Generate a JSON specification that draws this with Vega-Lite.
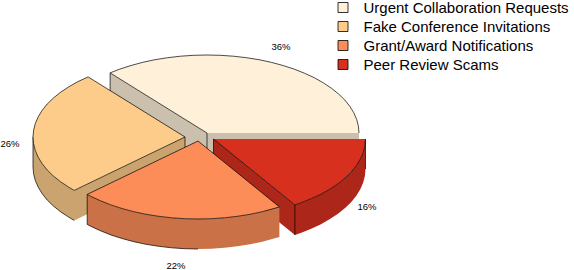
{"$schema":"https://vega.github.io/schema/vega-lite/v6.json","width":574,"height":270,"padding":0,"autosize":"none","background":"white","config":{"view":{"stroke":null}},"layer":[{"data":{"values":[
{"part":"1w","key":"Urgent side","face":"wall","i":0,"x":110.1,"y":72.9},{"part":"1w","key":"Urgent side","face":"wall","i":1,"x":207,"y":133},{"part":"1w","key":"Urgent side","face":"wall","i":2,"x":359,"y":133},{"part":"1w","key":"Urgent side","face":"wall","i":3,"x":359,"y":163},{"part":"1w","key":"Urgent side","face":"wall","i":4,"x":207,"y":163},{"part":"1w","key":"Urgent side","face":"wall","i":5,"x":110.1,"y":102.9},
{"part":"1e1","key":"edge","face":"edge","i":0,"x":110.1,"y":72.9},{"part":"1e1","key":"edge","face":"edge","i":1,"x":110.1,"y":102.9},
{"part":"1e2","key":"edge","face":"edge","i":0,"x":207,"y":133},{"part":"1e2","key":"edge","face":"edge","i":1,"x":207,"y":163},
{"part":"1t","key":"Urgent Collaboration Requests","face":"top","i":0,"x":359,"y":133},{"part":"1t","key":"Urgent Collaboration Requests","face":"top","i":1,"x":358.4,"y":126.2},{"part":"1t","key":"Urgent Collaboration Requests","face":"top","i":2,"x":356.7,"y":119.5},{"part":"1t","key":"Urgent Collaboration Requests","face":"top","i":3,"x":353.8,"y":112.8},{"part":"1t","key":"Urgent Collaboration Requests","face":"top","i":4,"x":349.8,"y":106.3},{"part":"1t","key":"Urgent Collaboration Requests","face":"top","i":5,"x":344.8,"y":100},{"part":"1t","key":"Urgent Collaboration Requests","face":"top","i":6,"x":338.6,"y":94},{"part":"1t","key":"Urgent Collaboration Requests","face":"top","i":7,"x":331.5,"y":88.3},{"part":"1t","key":"Urgent Collaboration Requests","face":"top","i":8,"x":323.4,"y":82.9},{"part":"1t","key":"Urgent Collaboration Requests","face":"top","i":9,"x":314.5,"y":77.8},{"part":"1t","key":"Urgent Collaboration Requests","face":"top","i":10,"x":304.7,"y":73.3},{"part":"1t","key":"Urgent Collaboration Requests","face":"top","i":11,"x":294.2,"y":69.1},{"part":"1t","key":"Urgent Collaboration Requests","face":"top","i":12,"x":283,"y":65.5},{"part":"1t","key":"Urgent Collaboration Requests","face":"top","i":13,"x":271.2,"y":62.3},{"part":"1t","key":"Urgent Collaboration Requests","face":"top","i":14,"x":259,"y":59.7},{"part":"1t","key":"Urgent Collaboration Requests","face":"top","i":15,"x":246.3,"y":57.7},{"part":"1t","key":"Urgent Collaboration Requests","face":"top","i":16,"x":233.4,"y":56.2},{"part":"1t","key":"Urgent Collaboration Requests","face":"top","i":17,"x":220.2,"y":55.3},{"part":"1t","key":"Urgent Collaboration Requests","face":"top","i":18,"x":207,"y":55},{"part":"1t","key":"Urgent Collaboration Requests","face":"top","i":19,"x":193.8,"y":55.3},{"part":"1t","key":"Urgent Collaboration Requests","face":"top","i":20,"x":180.6,"y":56.2},{"part":"1t","key":"Urgent Collaboration Requests","face":"top","i":21,"x":167.7,"y":57.7},{"part":"1t","key":"Urgent Collaboration Requests","face":"top","i":22,"x":155,"y":59.7},{"part":"1t","key":"Urgent Collaboration Requests","face":"top","i":23,"x":142.8,"y":62.3},{"part":"1t","key":"Urgent Collaboration Requests","face":"top","i":24,"x":131,"y":65.5},{"part":"1t","key":"Urgent Collaboration Requests","face":"top","i":25,"x":119.8,"y":69.1},{"part":"1t","key":"Urgent Collaboration Requests","face":"top","i":26,"x":110.1,"y":72.9},{"part":"1t","key":"Urgent Collaboration Requests","face":"top","i":27,"x":207,"y":133},
{"part":"2w","key":"Fake side","face":"wall","i":0,"x":33,"y":137},{"part":"2w","key":"Fake side","face":"wall","i":1,"x":33.6,"y":143.8},{"part":"2w","key":"Fake side","face":"wall","i":2,"x":35.3,"y":150.5},{"part":"2w","key":"Fake side","face":"wall","i":3,"x":38.2,"y":157.2},{"part":"2w","key":"Fake side","face":"wall","i":4,"x":42.2,"y":163.7},{"part":"2w","key":"Fake side","face":"wall","i":5,"x":47.2,"y":170},{"part":"2w","key":"Fake side","face":"wall","i":6,"x":53.4,"y":176},{"part":"2w","key":"Fake side","face":"wall","i":7,"x":60.5,"y":181.7},{"part":"2w","key":"Fake side","face":"wall","i":8,"x":68.6,"y":187.1},{"part":"2w","key":"Fake side","face":"wall","i":9,"x":74.2,"y":190.4},{"part":"2w","key":"Fake side","face":"wall","i":10,"x":185,"y":137},{"part":"2w","key":"Fake side","face":"wall","i":11,"x":185,"y":167},{"part":"2w","key":"Fake side","face":"wall","i":12,"x":74.2,"y":220.4},{"part":"2w","key":"Fake side","face":"wall","i":13,"x":68.6,"y":217.1},{"part":"2w","key":"Fake side","face":"wall","i":14,"x":60.5,"y":211.7},{"part":"2w","key":"Fake side","face":"wall","i":15,"x":53.4,"y":206},{"part":"2w","key":"Fake side","face":"wall","i":16,"x":47.2,"y":200},{"part":"2w","key":"Fake side","face":"wall","i":17,"x":42.2,"y":193.7},{"part":"2w","key":"Fake side","face":"wall","i":18,"x":38.2,"y":187.2},{"part":"2w","key":"Fake side","face":"wall","i":19,"x":35.3,"y":180.5},{"part":"2w","key":"Fake side","face":"wall","i":20,"x":33.6,"y":173.8},{"part":"2w","key":"Fake side","face":"wall","i":21,"x":33,"y":167},
{"part":"2e1","key":"edge","face":"edge","i":0,"x":33,"y":137},{"part":"2e1","key":"edge","face":"edge","i":1,"x":33,"y":167},{"part":"2e1","key":"edge","face":"edge","i":2,"x":33.6,"y":173.8},{"part":"2e1","key":"edge","face":"edge","i":3,"x":35.3,"y":180.5},{"part":"2e1","key":"edge","face":"edge","i":4,"x":38.2,"y":187.2},{"part":"2e1","key":"edge","face":"edge","i":5,"x":42.2,"y":193.7},{"part":"2e1","key":"edge","face":"edge","i":6,"x":47.2,"y":200},{"part":"2e1","key":"edge","face":"edge","i":7,"x":53.4,"y":206},{"part":"2e1","key":"edge","face":"edge","i":8,"x":60.5,"y":211.7},{"part":"2e1","key":"edge","face":"edge","i":9,"x":68.6,"y":217.1},{"part":"2e1","key":"edge","face":"edge","i":10,"x":74.2,"y":220.4},
{"part":"2e2","key":"edge","face":"edge","i":0,"x":185,"y":137},{"part":"2e2","key":"edge","face":"edge","i":1,"x":185,"y":167},
{"part":"2t","key":"Fake Conference Invitations","face":"top","i":0,"x":185,"y":137},{"part":"2t","key":"Fake Conference Invitations","face":"top","i":1,"x":88.1,"y":76.9},{"part":"2t","key":"Fake Conference Invitations","face":"top","i":2,"x":77.5,"y":81.8},{"part":"2t","key":"Fake Conference Invitations","face":"top","i":3,"x":68.6,"y":86.9},{"part":"2t","key":"Fake Conference Invitations","face":"top","i":4,"x":60.5,"y":92.3},{"part":"2t","key":"Fake Conference Invitations","face":"top","i":5,"x":53.4,"y":98},{"part":"2t","key":"Fake Conference Invitations","face":"top","i":6,"x":47.2,"y":104},{"part":"2t","key":"Fake Conference Invitations","face":"top","i":7,"x":42.2,"y":110.3},{"part":"2t","key":"Fake Conference Invitations","face":"top","i":8,"x":38.2,"y":116.8},{"part":"2t","key":"Fake Conference Invitations","face":"top","i":9,"x":35.3,"y":123.5},{"part":"2t","key":"Fake Conference Invitations","face":"top","i":10,"x":33.6,"y":130.2},{"part":"2t","key":"Fake Conference Invitations","face":"top","i":11,"x":33,"y":137},{"part":"2t","key":"Fake Conference Invitations","face":"top","i":12,"x":33.6,"y":143.8},{"part":"2t","key":"Fake Conference Invitations","face":"top","i":13,"x":35.3,"y":150.5},{"part":"2t","key":"Fake Conference Invitations","face":"top","i":14,"x":38.2,"y":157.2},{"part":"2t","key":"Fake Conference Invitations","face":"top","i":15,"x":42.2,"y":163.7},{"part":"2t","key":"Fake Conference Invitations","face":"top","i":16,"x":47.2,"y":170},{"part":"2t","key":"Fake Conference Invitations","face":"top","i":17,"x":53.4,"y":176},{"part":"2t","key":"Fake Conference Invitations","face":"top","i":18,"x":60.5,"y":181.7},{"part":"2t","key":"Fake Conference Invitations","face":"top","i":19,"x":68.6,"y":187.1},{"part":"2t","key":"Fake Conference Invitations","face":"top","i":20,"x":74.2,"y":190.4},{"part":"2t","key":"Fake Conference Invitations","face":"top","i":21,"x":185,"y":137},
{"part":"4w","key":"Peer side","face":"wall","i":0,"x":365.5,"y":139},{"part":"4w","key":"Peer side","face":"wall","i":1,"x":364.9,"y":145.8},{"part":"4w","key":"Peer side","face":"wall","i":2,"x":363.2,"y":152.5},{"part":"4w","key":"Peer side","face":"wall","i":3,"x":360.3,"y":159.2},{"part":"4w","key":"Peer side","face":"wall","i":4,"x":356.3,"y":165.7},{"part":"4w","key":"Peer side","face":"wall","i":5,"x":351.3,"y":172},{"part":"4w","key":"Peer side","face":"wall","i":6,"x":345.1,"y":178},{"part":"4w","key":"Peer side","face":"wall","i":7,"x":338,"y":183.7},{"part":"4w","key":"Peer side","face":"wall","i":8,"x":329.9,"y":189.1},{"part":"4w","key":"Peer side","face":"wall","i":9,"x":321,"y":194.2},{"part":"4w","key":"Peer side","face":"wall","i":10,"x":311.2,"y":198.7},{"part":"4w","key":"Peer side","face":"wall","i":11,"x":300.7,"y":202.9},{"part":"4w","key":"Peer side","face":"wall","i":12,"x":294.9,"y":204.9},{"part":"4w","key":"Peer side","face":"wall","i":13,"x":213.5,"y":139},{"part":"4w","key":"Peer side","face":"wall","i":14,"x":213.5,"y":169},{"part":"4w","key":"Peer side","face":"wall","i":15,"x":294.9,"y":234.9},{"part":"4w","key":"Peer side","face":"wall","i":16,"x":300.7,"y":232.9},{"part":"4w","key":"Peer side","face":"wall","i":17,"x":311.2,"y":228.7},{"part":"4w","key":"Peer side","face":"wall","i":18,"x":321,"y":224.2},{"part":"4w","key":"Peer side","face":"wall","i":19,"x":329.9,"y":219.1},{"part":"4w","key":"Peer side","face":"wall","i":20,"x":338,"y":213.7},{"part":"4w","key":"Peer side","face":"wall","i":21,"x":345.1,"y":208},{"part":"4w","key":"Peer side","face":"wall","i":22,"x":351.3,"y":202},{"part":"4w","key":"Peer side","face":"wall","i":23,"x":356.3,"y":195.7},{"part":"4w","key":"Peer side","face":"wall","i":24,"x":360.3,"y":189.2},{"part":"4w","key":"Peer side","face":"wall","i":25,"x":363.2,"y":182.5},{"part":"4w","key":"Peer side","face":"wall","i":26,"x":364.9,"y":175.8},{"part":"4w","key":"Peer side","face":"wall","i":27,"x":365.5,"y":169},
{"part":"4e1","key":"edge","face":"edge","i":0,"x":213.5,"y":139},{"part":"4e1","key":"edge","face":"edge","i":1,"x":213.5,"y":169},
{"part":"4e2","key":"edge","face":"edge","i":0,"x":294.9,"y":204.9},{"part":"4e2","key":"edge","face":"edge","i":1,"x":294.9,"y":234.9},
{"part":"4e3","key":"edge","face":"edge","i":0,"x":365.5,"y":139},{"part":"4e3","key":"edge","face":"edge","i":1,"x":365.5,"y":169},
{"part":"4t","key":"Peer Review Scams","face":"top","i":0,"x":365.5,"y":139},{"part":"4t","key":"Peer Review Scams","face":"top","i":1,"x":364.9,"y":145.8},{"part":"4t","key":"Peer Review Scams","face":"top","i":2,"x":363.2,"y":152.5},{"part":"4t","key":"Peer Review Scams","face":"top","i":3,"x":360.3,"y":159.2},{"part":"4t","key":"Peer Review Scams","face":"top","i":4,"x":356.3,"y":165.7},{"part":"4t","key":"Peer Review Scams","face":"top","i":5,"x":351.3,"y":172},{"part":"4t","key":"Peer Review Scams","face":"top","i":6,"x":345.1,"y":178},{"part":"4t","key":"Peer Review Scams","face":"top","i":7,"x":338,"y":183.7},{"part":"4t","key":"Peer Review Scams","face":"top","i":8,"x":329.9,"y":189.1},{"part":"4t","key":"Peer Review Scams","face":"top","i":9,"x":321,"y":194.2},{"part":"4t","key":"Peer Review Scams","face":"top","i":10,"x":311.2,"y":198.7},{"part":"4t","key":"Peer Review Scams","face":"top","i":11,"x":300.7,"y":202.9},{"part":"4t","key":"Peer Review Scams","face":"top","i":12,"x":294.9,"y":204.9},{"part":"4t","key":"Peer Review Scams","face":"top","i":13,"x":213.5,"y":139},
{"part":"3w","key":"Grant side","face":"wall","i":0,"x":87.2,"y":194.4},{"part":"3w","key":"Grant side","face":"wall","i":1,"x":90.5,"y":196.2},{"part":"3w","key":"Grant side","face":"wall","i":2,"x":100.3,"y":200.7},{"part":"3w","key":"Grant side","face":"wall","i":3,"x":110.8,"y":204.9},{"part":"3w","key":"Grant side","face":"wall","i":4,"x":122,"y":208.5},{"part":"3w","key":"Grant side","face":"wall","i":5,"x":133.8,"y":211.7},{"part":"3w","key":"Grant side","face":"wall","i":6,"x":146,"y":214.3},{"part":"3w","key":"Grant side","face":"wall","i":7,"x":158.7,"y":216.3},{"part":"3w","key":"Grant side","face":"wall","i":8,"x":171.6,"y":217.8},{"part":"3w","key":"Grant side","face":"wall","i":9,"x":184.8,"y":218.7},{"part":"3w","key":"Grant side","face":"wall","i":10,"x":198,"y":219},{"part":"3w","key":"Grant side","face":"wall","i":11,"x":211.2,"y":218.7},{"part":"3w","key":"Grant side","face":"wall","i":12,"x":224.4,"y":217.8},{"part":"3w","key":"Grant side","face":"wall","i":13,"x":237.3,"y":216.3},{"part":"3w","key":"Grant side","face":"wall","i":14,"x":250,"y":214.3},{"part":"3w","key":"Grant side","face":"wall","i":15,"x":262.2,"y":211.7},{"part":"3w","key":"Grant side","face":"wall","i":16,"x":274,"y":208.5},{"part":"3w","key":"Grant side","face":"wall","i":17,"x":279.4,"y":206.9},{"part":"3w","key":"Grant side","face":"wall","i":18,"x":279.4,"y":236.9},{"part":"3w","key":"Grant side","face":"wall","i":19,"x":274,"y":238.5},{"part":"3w","key":"Grant side","face":"wall","i":20,"x":262.2,"y":241.7},{"part":"3w","key":"Grant side","face":"wall","i":21,"x":250,"y":244.3},{"part":"3w","key":"Grant side","face":"wall","i":22,"x":237.3,"y":246.3},{"part":"3w","key":"Grant side","face":"wall","i":23,"x":224.4,"y":247.8},{"part":"3w","key":"Grant side","face":"wall","i":24,"x":211.2,"y":248.7},{"part":"3w","key":"Grant side","face":"wall","i":25,"x":198,"y":249},{"part":"3w","key":"Grant side","face":"wall","i":26,"x":184.8,"y":248.7},{"part":"3w","key":"Grant side","face":"wall","i":27,"x":171.6,"y":247.8},{"part":"3w","key":"Grant side","face":"wall","i":28,"x":158.7,"y":246.3},{"part":"3w","key":"Grant side","face":"wall","i":29,"x":146,"y":244.3},{"part":"3w","key":"Grant side","face":"wall","i":30,"x":133.8,"y":241.7},{"part":"3w","key":"Grant side","face":"wall","i":31,"x":122,"y":238.5},{"part":"3w","key":"Grant side","face":"wall","i":32,"x":110.8,"y":234.9},{"part":"3w","key":"Grant side","face":"wall","i":33,"x":100.3,"y":230.7},{"part":"3w","key":"Grant side","face":"wall","i":34,"x":90.5,"y":226.2},{"part":"3w","key":"Grant side","face":"wall","i":35,"x":87.2,"y":224.4},
{"part":"3e","key":"edge","face":"edge","i":0,"x":87.2,"y":194.4},{"part":"3e","key":"edge","face":"edge","i":1,"x":87.2,"y":224.4},{"part":"3e","key":"edge","face":"edge","i":2,"x":90.5,"y":226.2},{"part":"3e","key":"edge","face":"edge","i":3,"x":100.3,"y":230.7},{"part":"3e","key":"edge","face":"edge","i":4,"x":110.8,"y":234.9},{"part":"3e","key":"edge","face":"edge","i":5,"x":122,"y":238.5},{"part":"3e","key":"edge","face":"edge","i":6,"x":133.8,"y":241.7},{"part":"3e","key":"edge","face":"edge","i":7,"x":146,"y":244.3},{"part":"3e","key":"edge","face":"edge","i":8,"x":158.7,"y":246.3},{"part":"3e","key":"edge","face":"edge","i":9,"x":171.6,"y":247.8},{"part":"3e","key":"edge","face":"edge","i":10,"x":184.8,"y":248.7},{"part":"3e","key":"edge","face":"edge","i":11,"x":198,"y":249},
{"part":"3t","key":"Grant/Award Notifications","face":"top","i":0,"x":198,"y":141},{"part":"3t","key":"Grant/Award Notifications","face":"top","i":1,"x":87.2,"y":194.4},{"part":"3t","key":"Grant/Award Notifications","face":"top","i":2,"x":90.5,"y":196.2},{"part":"3t","key":"Grant/Award Notifications","face":"top","i":3,"x":100.3,"y":200.7},{"part":"3t","key":"Grant/Award Notifications","face":"top","i":4,"x":110.8,"y":204.9},{"part":"3t","key":"Grant/Award Notifications","face":"top","i":5,"x":122,"y":208.5},{"part":"3t","key":"Grant/Award Notifications","face":"top","i":6,"x":133.8,"y":211.7},{"part":"3t","key":"Grant/Award Notifications","face":"top","i":7,"x":146,"y":214.3},{"part":"3t","key":"Grant/Award Notifications","face":"top","i":8,"x":158.7,"y":216.3},{"part":"3t","key":"Grant/Award Notifications","face":"top","i":9,"x":171.6,"y":217.8},{"part":"3t","key":"Grant/Award Notifications","face":"top","i":10,"x":184.8,"y":218.7},{"part":"3t","key":"Grant/Award Notifications","face":"top","i":11,"x":198,"y":219},{"part":"3t","key":"Grant/Award Notifications","face":"top","i":12,"x":211.2,"y":218.7},{"part":"3t","key":"Grant/Award Notifications","face":"top","i":13,"x":224.4,"y":217.8},{"part":"3t","key":"Grant/Award Notifications","face":"top","i":14,"x":237.3,"y":216.3},{"part":"3t","key":"Grant/Award Notifications","face":"top","i":15,"x":250,"y":214.3},{"part":"3t","key":"Grant/Award Notifications","face":"top","i":16,"x":262.2,"y":211.7},{"part":"3t","key":"Grant/Award Notifications","face":"top","i":17,"x":274,"y":208.5},{"part":"3t","key":"Grant/Award Notifications","face":"top","i":18,"x":279.4,"y":206.9},{"part":"3t","key":"Grant/Award Notifications","face":"top","i":19,"x":198,"y":141}
]},"mark":{"type":"line","strokeWidth":0.7,"interpolate":"linear","clip":false},"encoding":{"x":{"field":"x","type":"quantitative","scale":{"domain":[0,574],"nice":false,"zero":false},"axis":null},"y":{"field":"y","type":"quantitative","scale":{"domain":[270,0],"nice":false,"zero":false},"axis":null},"detail":{"field":"part"},"order":{"field":"i","type":"quantitative"},"fill":{"field":"key","type":"nominal","scale":{"domain":["Urgent Collaboration Requests","Fake Conference Invitations","Grant/Award Notifications","Peer Review Scams","Urgent side","Fake side","Grant side","Peer side","edge"],"range":["#FEF0D9","#FDCC8A","#FC8D59","#D7301F","#CBC0AE","#CAA36E","#CA7147","#AC2619","transparent"]},"legend":{"values":["Urgent Collaboration Requests","Fake Conference Invitations","Grant/Award Notifications","Peer Review Scams"],"title":null,"orient":"none","legendX":335.5,"legendY":0,"symbolType":"square","symbolSize":100,"symbolStrokeColor":"black","symbolStrokeWidth":0.8,"labelFont":"Liberation Sans","labelFontSize":15,"labelColor":"black","rowPadding":3,"labelOffset":13,"labelLimit":300}},"stroke":{"condition":{"test":"datum.face==='wall'","value":"transparent"},"value":"black"}}},
{"data":{"values":[{"category":"Urgent Collaboration Requests","pct":"36%","x":281,"y":47},{"category":"Fake Conference Invitations","pct":"26%","x":10,"y":144},{"category":"Grant/Award Notifications","pct":"22%","x":176,"y":266},{"category":"Peer Review Scams","pct":"16%","x":367,"y":207}]},"mark":{"type":"text","font":"Liberation Sans","fontSize":9.5,"color":"black","baseline":"middle","align":"center"},"encoding":{"x":{"field":"x","type":"quantitative"},"y":{"field":"y","type":"quantitative"},"text":{"field":"pct"}}}]}
